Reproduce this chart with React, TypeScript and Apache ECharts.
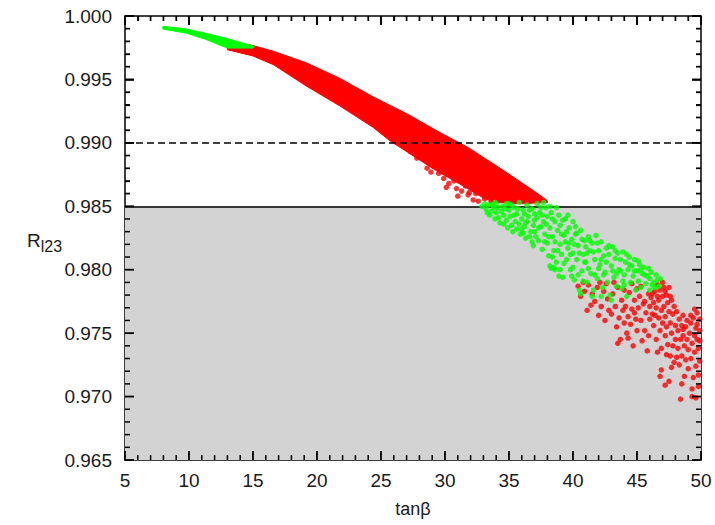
import React, { useEffect, useRef } from "react";
import * as echarts from "echarts";

// Axis ranges
const X_MIN = 5;
const X_MAX = 50;
const X_STEP = 5;
const X_MINOR = 1;
const Y_MIN = 0.965;
const Y_MAX = 1.0;
const Y_STEP = 0.005;
const Y_MINOR = 0.001;

// Reference lines
const DASHED_LEVEL = 0.99;
const SOLID_LEVEL = 0.985;

// Dense green band at low tanβ (outline)
const greenTopUpper: number[][] = [
  [7.9, 0.9991], [8.0, 0.99918], [9.8, 0.99898], [12.4, 0.99838], [15.0, 0.99765], [15.1, 0.99758],
];
const greenTopLower: number[][] = [
  [15.0, 0.99747], [13.0, 0.99747], [11.4, 0.99812], [9.8, 0.99865], [8.0, 0.99896],
];

// Dense red band (outline)
const redBandUpper: number[][] = [
  [13.0, 0.9979], [14.8, 0.99773], [16.6, 0.99722], [19.2, 0.9963], [21.8, 0.99508],
  [24.4, 0.99362], [27.1, 0.99225], [29.6, 0.99082], [31.8, 0.98964], [34.4, 0.98794],
  [36.9, 0.98624], [38.0, 0.98544],
];
const redBandLower: number[][] = [
  [38.0, 0.9853], [36.0, 0.9852], [34.0, 0.9853], [33.0, 0.98565], [31.8, 0.98638],
  [29.1, 0.98794], [27.1, 0.98925], [25.7, 0.99016], [24.4, 0.99121], [21.8, 0.9929],
  [19.2, 0.99446], [16.6, 0.99616], [15.0, 0.99685], [13.0, 0.99734],
];

// Scattered red points along the ragged lower edge of the band
const redEdgePoints: number[][] = [
  [27.3, 0.9893], [27.8, 0.9888], [28.6, 0.988], [28.9, 0.9877], [29.5, 0.9876], [29.9, 0.9872],
  [30.1, 0.9865], [30.3, 0.9868], [30.7, 0.987], [30.9, 0.9864], [31.0, 0.9858], [31.3, 0.9862],
  [31.6, 0.9866], [31.8, 0.9859], [31.9, 0.9861], [32.2, 0.9855], [32.4, 0.986], [32.6, 0.9854],
  [32.8, 0.9864], [33.1, 0.9856], [33.4, 0.9858], [33.6, 0.9854], [34.0, 0.9856], [34.4, 0.9855],
];

// Red tail at high tanβ
const redTailPoints: number[][] = [
  [40.4, 0.9787], [40.6, 0.9779], [40.9, 0.9783], [41.2, 0.9788], [41.4, 0.9772], [41.5, 0.9781], [41.1, 0.9768], [40.8, 0.979],
  [41.7, 0.9775], [41.9, 0.9786], [42.0, 0.9764], [42.2, 0.9771], [42.4, 0.9783], [42.5, 0.976], [42.7, 0.9777], [42.8, 0.9768], [42.1, 0.979], [42.6, 0.9789],
  [43.0, 0.9765], [43.1, 0.9781], [43.3, 0.9771], [43.4, 0.9755], [43.5, 0.9786], [43.6, 0.9762], [43.7, 0.9745], [43.8, 0.9776], [43.9, 0.9768], [44.0, 0.9758], [43.2, 0.979], [44.0, 0.9784], [43.5, 0.9742],
  [44.1, 0.9771], [44.2, 0.975], [44.3, 0.9763], [44.4, 0.9782], [44.5, 0.9757], [44.6, 0.9769], [44.7, 0.974], [44.8, 0.9776], [44.9, 0.9761], [45.0, 0.9785], [44.3, 0.9746], [44.6, 0.9789], [45.0, 0.9752], [44.8, 0.9766],
  [45.1, 0.977], [45.2, 0.9779], [45.3, 0.976], [45.4, 0.9744], [45.5, 0.9773], [45.6, 0.9752], [45.7, 0.9766], [45.8, 0.9736], [45.9, 0.9781], [46.0, 0.9761], [45.3, 0.9787], [45.6, 0.9775], [45.9, 0.9748], [46.0, 0.9771],
  [46.1, 0.9778], [46.2, 0.9765], [46.3, 0.9756], [46.4, 0.9783], [46.5, 0.977], [46.5, 0.9745], [46.6, 0.9788], [46.7, 0.9762], [46.7, 0.9776], [46.8, 0.9752], [46.8, 0.9784], [46.9, 0.9768], [46.9, 0.9738], [47.0, 0.9779], [47.0, 0.9758], [46.3, 0.9774], [46.6, 0.9735], [46.4, 0.9764], [46.9, 0.9721], [46.8, 0.9716], [47.0, 0.979],
  [47.1, 0.9786], [47.1, 0.9771], [47.2, 0.9763], [47.2, 0.9748], [47.3, 0.978], [47.3, 0.9755], [47.4, 0.9774], [47.4, 0.9741], [47.5, 0.9767], [47.5, 0.9786], [47.6, 0.9758], [47.6, 0.9732], [47.7, 0.9776], [47.7, 0.975], [47.8, 0.9765], [47.8, 0.974], [47.9, 0.9771], [47.9, 0.9727], [48.0, 0.9756], [48.0, 0.9745], [47.2, 0.9709], [47.5, 0.9712], [47.7, 0.9723], [47.3, 0.9733],
  [48.1, 0.9767], [48.2, 0.9752], [48.2, 0.9738], [48.3, 0.9761], [48.3, 0.9725], [48.4, 0.9745], [48.4, 0.9698], [48.5, 0.9756], [48.5, 0.9732], [48.6, 0.9748], [48.6, 0.9764], [48.7, 0.974], [48.7, 0.9716], [48.8, 0.9755], [48.8, 0.9729], [48.9, 0.9745], [48.9, 0.976], [49.0, 0.9737], [49.0, 0.9722], [48.5, 0.971], [48.1, 0.9731],
  [49.1, 0.975], [49.2, 0.973], [49.2, 0.9758], [49.3, 0.9742], [49.3, 0.9706], [49.4, 0.9715], [49.4, 0.9762], [49.5, 0.9748], [49.5, 0.9735], [49.6, 0.9754], [49.6, 0.9724], [49.7, 0.9745], [49.7, 0.9766], [49.8, 0.9738], [49.8, 0.9708], [49.9, 0.9752], [49.9, 0.9728], [49.9, 0.9761], [49.6, 0.9699], [49.3, 0.97], [49.8, 0.9717], [49.5, 0.9769],
  [46.2, 0.9781], [46.6, 0.9779], [47.2, 0.9783], [47.6, 0.9779], [49.2, 0.9764], [49.7, 0.9757], [49.9, 0.9744], [48.6, 0.9753],
];

// Green cloud around the 0.985 line
const greenCloudPoints: number[][] = [
  [32.9, 0.985], [33.2, 0.9848], [33.4, 0.9851], [33.1, 0.9852], [33.6, 0.9846], [33.5, 0.9843],
  [33.8, 0.9849], [34.0, 0.9845], [34.2, 0.9841], [34.0, 0.9852], [34.3, 0.9837], [34.5, 0.985], [34.4, 0.9846], [33.9, 0.984], [34.6, 0.9843],
  [34.8, 0.9839], [35.0, 0.9852], [35.0, 0.9847], [35.2, 0.9835], [35.1, 0.9842], [35.4, 0.9849], [35.3, 0.983], [35.5, 0.9838], [34.9, 0.9833], [35.6, 0.9844],
  [35.8, 0.9853], [35.9, 0.9828], [36.0, 0.984], [36.1, 0.9847], [36.2, 0.9834], [36.3, 0.9825], [36.4, 0.9851], [36.0, 0.9832], [36.5, 0.9842], [36.3, 0.9837],
  [36.7, 0.983], [36.8, 0.9848], [36.9, 0.9819], [37.0, 0.9839], [37.1, 0.9826], [37.2, 0.9852], [37.0, 0.9844], [37.3, 0.9833], [36.8, 0.9822], [37.4, 0.9845],
  [37.6, 0.9816], [37.7, 0.9838], [37.8, 0.9828], [37.9, 0.9849], [38.0, 0.9821], [38.0, 0.9842], [38.2, 0.9833], [38.1, 0.9811], [37.5, 0.9834], [38.3, 0.9845], [37.7, 0.9853],
  [38.4, 0.9826], [38.5, 0.9815], [38.6, 0.9838], [38.7, 0.9806], [38.8, 0.9831], [38.9, 0.9843], [39.0, 0.982], [39.1, 0.9812], [38.3, 0.9801], [38.5, 0.9802], [39.0, 0.9835], [38.7, 0.9849],
  [38.2, 0.9803], [38.6, 0.98], [38.9, 0.9795],
  [39.2, 0.9794], [39.3, 0.9827], [39.4, 0.984], [39.5, 0.9808], [39.6, 0.9817], [39.7, 0.9833], [39.8, 0.98], [39.9, 0.9824], [40.0, 0.9838], [39.6, 0.9843], [40.0, 0.9813], [39.4, 0.9822],
  [40.1, 0.9792], [40.2, 0.9828], [40.3, 0.9808], [40.4, 0.9819], [40.5, 0.9784], [40.6, 0.9831], [40.7, 0.9799], [40.8, 0.9812], [40.9, 0.9823], [40.4, 0.9796], [40.6, 0.9781], [40.2, 0.9834],
  [41.0, 0.9806], [41.1, 0.979], [41.2, 0.9826], [41.3, 0.9815], [41.4, 0.9797], [41.5, 0.9821], [41.6, 0.9784], [41.7, 0.9808], [41.8, 0.9827], [41.2, 0.9801], [41.5, 0.9779], [41.0, 0.9818],
  [41.9, 0.9793], [42.0, 0.9815], [42.1, 0.9804], [42.2, 0.9822], [42.3, 0.9786], [42.4, 0.9811], [42.5, 0.9798], [42.6, 0.9817], [42.7, 0.979], [42.2, 0.9779], [42.0, 0.9801], [42.6, 0.9806],
  [42.8, 0.9812], [42.9, 0.978], [43.0, 0.9803], [43.1, 0.9818], [43.2, 0.9794], [43.3, 0.9809], [43.4, 0.9787], [43.5, 0.9813], [43.6, 0.98], [43.0, 0.9776], [43.4, 0.9797],
  [43.7, 0.9808], [43.8, 0.9785], [43.9, 0.9814], [44.0, 0.9796], [44.1, 0.9806], [44.2, 0.9779], [44.3, 0.98], [44.4, 0.981], [44.5, 0.979], [44.0, 0.9788],
  [44.6, 0.9803], [44.7, 0.9795], [44.8, 0.9808], [44.9, 0.9784], [45.0, 0.9799], [45.1, 0.9791], [45.2, 0.9804], [45.3, 0.9786], [45.4, 0.9797],
  [45.5, 0.9802], [45.7, 0.9789], [45.8, 0.9795], [46.0, 0.9784], [46.1, 0.9798], [46.3, 0.979], [46.4, 0.9786], [46.6, 0.9792], [46.7, 0.9787], [45.9, 0.9801],
  [33.3, 0.9845], [33.7, 0.9851], [34.1, 0.9849], [34.7, 0.9848], [34.8, 0.9852], [35.2, 0.9851], [34.6, 0.9836], [35.4, 0.9843], [33.9, 0.9853], [35.6, 0.9832],
  [35.7, 0.9848], [35.8, 0.9836], [36.1, 0.9829], [36.2, 0.9844], [36.6, 0.9847], [36.6, 0.9826], [36.9, 0.9835], [37.2, 0.9841], [37.3, 0.9823], [37.5, 0.9849], [36.4, 0.9838], [37.0, 0.983],
  [37.6, 0.9843], [37.8, 0.9822], [37.9, 0.9836], [38.1, 0.9826], [38.2, 0.985], [38.4, 0.984], [38.6, 0.9822], [38.8, 0.9815], [39.1, 0.9828], [39.2, 0.9839], [39.3, 0.9805], [39.5, 0.983], [38.4, 0.981], [39.0, 0.98],
  [39.7, 0.9821], [39.8, 0.9812], [40.0, 0.9802], [40.1, 0.982], [40.3, 0.9829], [40.5, 0.9813], [40.7, 0.9824], [40.9, 0.9806], [41.1, 0.9813], [41.3, 0.9823], [41.6, 0.9814], [41.7, 0.9796], [41.9, 0.9821], [40.8, 0.9791], [39.9, 0.9795],
  [42.2, 0.9808], [42.4, 0.9796], [42.8, 0.9819], [43.1, 0.9799], [43.3, 0.9815], [43.7, 0.9799], [43.9, 0.9791], [44.2, 0.9812], [44.4, 0.9804], [44.8, 0.9799], [45.1, 0.9807], [45.3, 0.98], [45.6, 0.9796], [46.0, 0.9793], [46.2, 0.9788], [46.5, 0.9796], [46.8, 0.9793],
];

const RED = "#ff0000";
const GREEN = "#00ff00";
const SHADE = "#d3d3d3";
const FONT = "'Liberation Sans', Arial, Helvetica, sans-serif";
const TEXT = "#1a1a1a";
const DOT = 5.5;
const MAJOR_LEN = 9;
const MINOR_LEN = 5;

function polygonSeries(upper: number[][], lower: number[][], color: string, z: number) {
  const outline = upper.concat(lower);
  return {
    type: "custom",
    z,
    silent: true,
    data: [outline[0]],
    renderItem: (_params: any, api: any) => ({
      type: "polygon",
      shape: { points: outline.map((p) => api.coord(p)) },
      style: { fill: color, stroke: color, lineWidth: 1 },
    }),
  };
}

// Frame ticks as graphic rectangles, positioned through the grid's own scales
function frameTickGraphics(chart: any) {
  const out: any[] = [];
  const toPx = (x: number, y: number) => chart.convertToPixel({ gridIndex: 0 }, [x, y]) as number[];
  const nx = Math.round((X_MAX - X_MIN) / X_MINOR);
  const perX = Math.round(X_STEP / X_MINOR);
  for (let i = 0; i <= nx; i++) {
    const v = X_MIN + i * X_MINOR;
    const major = i % perX === 0;
    const len = major ? MAJOR_LEN : MINOR_LEN;
    const w = major ? 1.8 : 1.5;
    const b = toPx(v, Y_MIN);
    const t = toPx(v, Y_MAX);
    out.push({ type: "rect", z: 200, silent: true, shape: { x: b[0] - w / 2, y: b[1] - len, width: w, height: len }, style: { fill: "#000" } });
    out.push({ type: "rect", z: 200, silent: true, shape: { x: t[0] - w / 2, y: t[1], width: w, height: len }, style: { fill: "#000" } });
  }
  const ny = Math.round((Y_MAX - Y_MIN) / Y_MINOR);
  const perY = Math.round(Y_STEP / Y_MINOR);
  for (let i = 0; i <= ny; i++) {
    const v = Y_MIN + i * Y_MINOR;
    const major = i % perY === 0;
    const len = major ? MAJOR_LEN : MINOR_LEN;
    const w = major ? 1.8 : 1.5;
    const l = toPx(X_MIN, v);
    const r = toPx(X_MAX, v);
    out.push({ type: "rect", z: 200, silent: true, shape: { x: l[0], y: l[1] - w / 2, width: len, height: w }, style: { fill: "#000" } });
    out.push({ type: "rect", z: 200, silent: true, shape: { x: r[0] - len, y: r[1] - w / 2, width: len, height: w }, style: { fill: "#000" } });
  }
  return out;
}

const yNameGraphic = {
  type: "text",
  left: 27,
  top: 231,
  z: 100,
  style: {
    text: "{r|R}{s|l23}",
    rich: {
      r: { fontFamily: FONT, fontSize: 19, fill: TEXT, color: TEXT },
      s: { fontFamily: FONT, fontSize: 16, fill: TEXT, color: TEXT, padding: [11, 0, 0, 0] },
    },
  },
};

export default function App() {
  const ref = useRef<HTMLDivElement>(null);

  useEffect(() => {
    if (!ref.current) return;
    const chart = echarts.init(ref.current, undefined, { renderer: "svg" });

    const axisLine = { show: true, onZero: false, lineStyle: { color: "#000", width: 1.5 } };
    const axisTick = { show: true, inside: true, length: MAJOR_LEN, lineStyle: { color: "#000", width: 1.5 } };
    const minorTick = { show: true, splitNumber: 5, length: MINOR_LEN, lineStyle: { color: "#000", width: 1.3 } };

    chart.setOption({
      animation: false,
      backgroundColor: "#fff",
      grid: { left: 125, right: 14, top: 16, bottom: 65 },
      xAxis: [
        {
          type: "value",
          min: X_MIN,
          max: X_MAX,
          interval: X_STEP,
          position: "bottom",
          axisLine,
          axisTick,
          minorTick,
          splitLine: { show: false },
          axisLabel: { show: true, color: TEXT, fontFamily: FONT, fontSize: 19, margin: 11 },
          name: "tanβ",
          nameLocation: "middle",
          nameGap: 40,
          nameTextStyle: { color: TEXT, fontFamily: FONT, fontSize: 18 },
        },
        {
          type: "value",
          min: X_MIN,
          max: X_MAX,
          interval: X_STEP,
          position: "top",
          axisLine,
          axisTick,
          minorTick,
          splitLine: { show: false },
          axisLabel: { show: false },
        },
      ],
      yAxis: [
        {
          type: "value",
          min: Y_MIN,
          max: Y_MAX,
          interval: Y_STEP,
          position: "left",
          axisLine,
          axisTick,
          minorTick,
          splitLine: { show: false },
          axisLabel: {
            show: true,
            color: TEXT,
            fontFamily: FONT,
            fontSize: 19,
            margin: 13,
            formatter: (v: number) => v.toFixed(3),
          },
        },
        {
          type: "value",
          min: Y_MIN,
          max: Y_MAX,
          interval: Y_STEP,
          position: "right",
          axisLine,
          axisTick,
          minorTick,
          splitLine: { show: false },
          axisLabel: { show: false },
        },
      ],
      graphic: [yNameGraphic],
      series: [
        {
          type: "line",
          z: 1,
          silent: true,
          data: [],
          markArea: {
            silent: true,
            itemStyle: { color: SHADE },
            data: [[{ yAxis: Y_MIN }, { yAxis: SOLID_LEVEL }]],
          },
        },
        polygonSeries(redBandUpper, redBandLower, RED, 2),
        polygonSeries(greenTopUpper, greenTopLower, GREEN, 3),
        {
          type: "scatter",
          z: 4,
          silent: true,
          symbolSize: DOT,
          itemStyle: { color: RED },
          data: redEdgePoints,
        },
        {
          type: "scatter",
          z: 4,
          silent: true,
          symbolSize: DOT,
          itemStyle: { color: RED },
          data: redTailPoints,
        },
        {
          type: "scatter",
          z: 5,
          silent: true,
          symbolSize: DOT,
          itemStyle: { color: GREEN },
          data: greenCloudPoints,
        },
        {
          type: "line",
          z: 10,
          silent: true,
          data: [],
          markLine: {
            silent: true,
            precision: 6,
            symbol: ["none", "none"],
            label: { show: false },
            data: [
              { yAxis: DASHED_LEVEL, lineStyle: { color: "#000", width: 1.6, type: [7, 4] } },
              { yAxis: SOLID_LEVEL, lineStyle: { color: "#000", width: 1.6, type: "solid" } },
            ],
          },
        },
      ],
    });

    // Second pass: add the frame ticks once the grid scales exist
    chart.setOption({ graphic: [yNameGraphic, ...frameTickGraphics(chart)] }, { replaceMerge: ["graphic"] });

    return () => chart.dispose();
  }, []);

  return (
    <div
      ref={ref}
      style={{ position: "fixed", left: 0, top: 0, width: 715, height: 525, background: "#fff" }}
    />
  );
}
